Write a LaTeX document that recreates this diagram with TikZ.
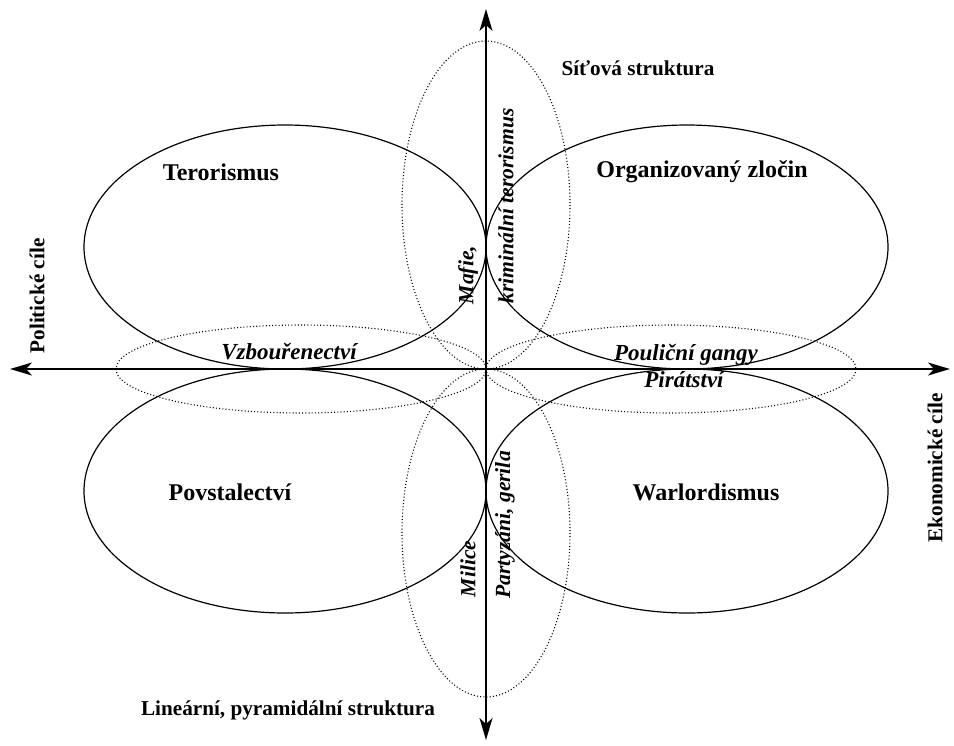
\documentclass[tikz,border=0pt]{standalone}
\usepackage{fontspec}
\setmainfont{Liberation Serif}
\usetikzlibrary{arrows.meta}

\begin{document}
\begin{tikzpicture}[x=0.5pt, y=-0.5pt,
  osa/.style={line width=0.8pt, -{Stealth[length=11pt, width=6.5pt, inset=3pt]}},
  oblast/.style={line width=0.6pt},
  prechod/.style={line width=0.55pt, dash pattern=on 0.5pt off 1.1pt},
  hlavni/.style={font=\fontsize{12}{14}\selectfont\bfseries},
  vedlejsi/.style={font=\fontsize{11.5}{13}\selectfont\bfseries\itshape},
  svisle/.style={rotate=90, font=\fontsize{10.8}{13}\selectfont\bfseries\itshape},
  popis/.style={font=\fontsize{10.6}{12}\selectfont\bfseries}]
\useasboundingbox (0,0) rectangle (954,745);
% osy
\coordinate (stred) at (486,369);
\coordinate (vlevo) at (10,369);
\coordinate (vpravo) at (950,369);
\coordinate (nahore) at (486,9);
\coordinate (dole) at (486,740);
\draw[osa] (stred) -- (vlevo);
\draw[osa] (stred) -- (vpravo);
\draw[osa] (stred) -- (nahore);
\draw[osa] (stred) -- (dole);
% hlavni oblasti
\draw[oblast] (285,247) ellipse [x radius=201, y radius=122];
\draw[oblast] (687,247) ellipse [x radius=201, y radius=122];
\draw[oblast] (285,491) ellipse [x radius=201, y radius=122];
\draw[oblast] (687,491) ellipse [x radius=201, y radius=122];
% prechodove oblasti
\draw[prechod] (486,205) ellipse [x radius=84, y radius=164];
\draw[prechod] (486,533) ellipse [x radius=84, y radius=164];
\draw[prechod] (301,369) ellipse [x radius=185, y radius=44];
\draw[prechod] (671,369) ellipse [x radius=185, y radius=44];
%Text
\node[popis] (sit) at (638,68) {Síťová struktura};
\node[popis] (lin) at (288,710) {Lineární, pyramidální struktura};
\node[popis, rotate=90] (pol) at (37,296) {Politické cíle};
\node[popis, rotate=90] (eko) at (935,468) {Ekonomické cíle};
\node[hlavni] (ter) at (221,172) {Terorismus};
\node[hlavni] (org) at (702,172) {Organizovaný zločin};
\node[hlavni] (pov) at (230,492) {Povstalectví};
\node[hlavni] (war) at (706,492) {Warlordismus};
\node[vedlejsi] (vzb) at (289,352) {Vzbouřenectví};
\node[vedlejsi] (gan) at (686,355) {Pouliční gangy};
\node[vedlejsi] (pir) at (684,380) {Pirátství};
\node[svisle] (maf) at (468,275) {Mafie,};
\node[svisle] (kri) at (506,206) {kriminální terorismus};
\node[svisle] (mil) at (468,569) {Milice};
\node[svisle] (par) at (505,525) {Partyzáni, gerila};
\end{tikzpicture}
\end{document}
